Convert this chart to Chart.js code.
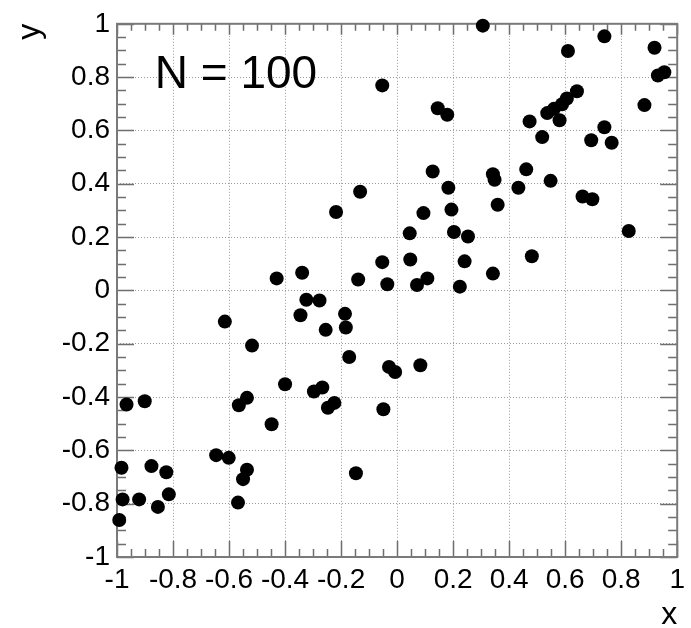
<!DOCTYPE html>
<html>
<head>
<meta charset="utf-8">
<script src="https://cdn.jsdelivr.net/npm/chart.js@4"></script>
<style>
html,body{margin:0;padding:0;background:#fff;}
#wrap{width:691px;height:628px;position:relative;}
canvas{display:block;}
</style>
</head>
<body>
<div id="wrap"><canvas id="c" width="691" height="628"></canvas></div>
<script>
// ---- data ----
const xValues = [
  0.306, 0.740, 0.610, 0.919, 0.931, 0.954, -0.053, 0.145, 0.179, 0.642,
  0.606, 0.589, 0.560, 0.536, 0.580, 0.473, 0.518, 0.740, 0.693, 0.766,
  0.883, 0.127, 0.342, 0.348, 0.183, 0.461, 0.433, 0.548, 0.359, 0.094,
  0.194, 0.662, 0.697, 0.045, 0.203, 0.253, 0.827, 0.047, 0.241, 0.481,
  -0.053, 0.342, -0.035, 0.071, 0.108, 0.224, -0.132, -0.218, -0.430, -0.339,
  -0.139, -0.324, -0.277, -0.615, -0.345, -0.186, -0.183, -0.255, -0.518, -0.171,
  -0.029, -0.007, 0.083, -0.400, -0.297, -0.267, -0.966, -0.901, -0.565, -0.536,
  -0.247, -0.224, -0.049, -0.448, -0.646, -0.601, -0.984, -0.877, -0.824, -0.536,
  -0.550, -0.147, -0.980, -0.921, -0.815, -0.854, -0.568, -0.992
];
const yValues = [
  0.993, 0.953, 0.898, 0.910, 0.806, 0.818, 0.769, 0.683, 0.659, 0.747,
  0.720, 0.698, 0.681, 0.665, 0.638, 0.634, 0.575, 0.612, 0.563, 0.554,
  0.695, 0.446, 0.436, 0.415, 0.385, 0.454, 0.385, 0.411, 0.321, 0.290,
  0.303, 0.352, 0.342, 0.214, 0.219, 0.202, 0.223, 0.116, 0.109, 0.128,
  0.106, 0.063, 0.023, 0.020, 0.045, 0.014, 0.370, 0.294, 0.045, 0.066,
  0.041, -0.035, -0.038, -0.117, -0.093, -0.088, -0.139, -0.148, -0.207, -0.250,
  -0.287, -0.306, -0.281, -0.352, -0.379, -0.364, -0.428, -0.416, -0.431, -0.403,
  -0.440, -0.422, -0.446, -0.502, -0.618, -0.628, -0.665, -0.659, -0.682, -0.673,
  -0.708, -0.686, -0.784, -0.784, -0.765, -0.812, -0.796, -0.861
];
const xTickValues = [-1, -0.8, -0.6, -0.4, -0.2, 0, 0.2, 0.4, 0.6, 0.8, 1];
const xTickLabels = ["-1", "-0.8", "-0.6", "-0.4", "-0.2", "0", "0.2", "0.4", "0.6", "0.8", "1"];
const yTickValues = [-1, -0.8, -0.6, -0.4, -0.2, 0, 0.2, 0.4, 0.6, 0.8, 1];
const yTickLabels = ["-1", "-0.8", "-0.6", "-0.4", "-0.2", "0", "0.2", "0.4", "0.6", "0.8", "1"];
const xTitle = "x";
const yTitle = "y";
const annotationText = "N = 100";

// ---- drawing ----
const FONT = "'Liberation Sans', Arial, Helvetica, sans-serif";
const MINOR_PER_MAJOR = 4;

const framePlugin = {
  id: 'frame',
  beforeDatasetsDraw(chart) {
    const {ctx, chartArea: a, scales: {x, y}} = chart;
    ctx.save();
    ctx.strokeStyle = '#6e6e6e';
    ctx.lineWidth = 1.5;
    ctx.beginPath();
    for (let i = 0; i < xTickValues.length - 1; i++) {
      for (let k = 0; k <= MINOR_PER_MAJOR; k++) {
        const v = xTickValues[i] + (xTickValues[i + 1] - xTickValues[i]) * k / MINOR_PER_MAJOR;
        const major = k === 0 || k === MINOR_PER_MAJOR;
        const px = Math.round(x.getPixelForValue(v)) + 0.5;
        ctx.moveTo(px, a.bottom); ctx.lineTo(px, a.bottom - (major ? 16 : 8));
        ctx.moveTo(px, a.top); ctx.lineTo(px, a.top + (major ? 11 : 7));
      }
    }
    for (let i = 0; i < yTickValues.length - 1; i++) {
      for (let k = 0; k <= MINOR_PER_MAJOR; k++) {
        const v = yTickValues[i] + (yTickValues[i + 1] - yTickValues[i]) * k / MINOR_PER_MAJOR;
        const major = k === 0 || k === MINOR_PER_MAJOR;
        const py = Math.round(y.getPixelForValue(v)) + 0.5;
        ctx.moveTo(a.left, py); ctx.lineTo(a.left + (major ? 17 : 9), py);
        ctx.moveTo(a.right, py); ctx.lineTo(a.right - (major ? 17 : 9), py);
      }
    }
    ctx.stroke();
    ctx.lineWidth = 2;
    ctx.strokeStyle = '#7a7a7a';
    ctx.strokeRect(a.left, a.top, a.right - a.left, a.bottom - a.top);
    // annotation
    ctx.fillStyle = '#000';
    ctx.font = "46px " + FONT;
    ctx.textAlign = 'left';
    ctx.textBaseline = 'alphabetic';
    ctx.fillText(annotationText, x.getPixelForValue(-0.865), y.getPixelForValue(0.76));
    ctx.restore();
  }
};

const ctx = document.getElementById('c').getContext('2d');
new Chart(ctx, {
  type: 'scatter',
  data: {
    datasets: [{
      data: xValues.map((v, i) => ({x: v, y: yValues[i]})),
      pointRadius: 7,
      pointHoverRadius: 7,
      pointBackgroundColor: '#000',
      pointBorderWidth: 0,
      borderWidth: 0,
      clip: false
    }]
  },
  options: {
    responsive: false,
    animation: false,
    layout: {padding: {left: 0, right: 8, top: 14, bottom: 0}},
    plugins: {legend: {display: false}, tooltip: {enabled: false}},
    scales: {
      x: {
        type: 'linear', min: -1, max: 1,
        afterBuildTicks: s => { s.ticks = xTickValues.map(v => ({value: v})); },
        afterFit: s => { s.height = 71; },
        ticks: {
          callback: (v, i) => xTickLabels[i],
          font: {family: FONT, size: 28}, color: '#000', padding: 6,
          maxRotation: 0, minRotation: 0, autoSkip: false
        },
        grid: {color: '#9a9a9a', lineWidth: 1, drawTicks: false},
        border: {display: false, dash: [1, 2]},
        title: {display: true, text: xTitle, align: 'end', color: '#000',
                font: {family: FONT, size: 32, lineHeight: 1}, padding: {top: 0, bottom: -3}}
      },
      y: {
        type: 'linear', min: -1, max: 1,
        afterBuildTicks: s => { s.ticks = yTickValues.map(v => ({value: v})); },
        afterFit: s => { s.width = 117; },
        ticks: {
          callback: (v, i) => yTickLabels[i],
          font: {family: FONT, size: 28}, color: '#000', padding: 7, autoSkip: false
        },
        grid: {color: '#9a9a9a', lineWidth: 1, drawTicks: false},
        border: {display: false, dash: [1, 2]},
        title: {display: true, text: yTitle, align: 'end', color: '#000',
                font: {family: FONT, size: 32, lineHeight: 1}, padding: {top: 14, bottom: 0}}
      }
    }
  },
  plugins: [framePlugin]
});
</script>
</body>
</html>
